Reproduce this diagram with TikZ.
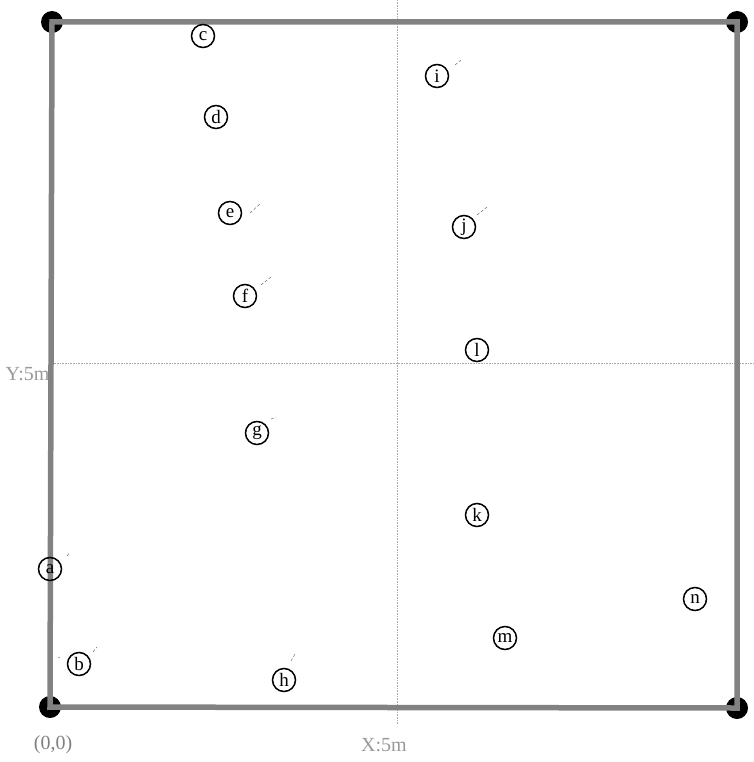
\documentclass[tikz,border=0pt]{standalone}
\usepackage{fontspec}
\setmainfont{Liberation Serif}
\usepackage{xcolor}
\usepackage{tikz}
\usetikzlibrary{positioning, calc}
\definecolor{framegray}{RGB}{130, 130, 130}
\definecolor{axisgray}{RGB}{170, 170, 170}

\begin{document}
\begin{tikzpicture}[
  x=1pt, y=-1pt,
  font=\fontsize{19}{21}\selectfont,
  pointnode/.style={draw=black, circle, line width=1.5pt, minimum size=23pt, inner sep=0pt},
  cornerdot/.style={fill=black, circle, minimum size=22pt, inner sep=0pt},
  frameline/.style={draw=framegray, line width=5.5pt},
  axisline/.style={draw=axisgray, line width=0.6pt, densely dotted},
  tickmark/.style={draw=gray, line width=0.6pt, densely dashed},
  axislabel/.style={text=gray!80, font=\fontsize{20}{22}\selectfont}
]
\useasboundingbox (0,0) rectangle (753,762);

% half-way lines
\coordinate (vtop) at (397,0);
\coordinate (vbot) at (397,724);
\coordinate (hleft) at (52,363);
\coordinate (hright) at (753,363);
\draw[axisline] (vtop) -- (vbot);
\draw[axisline] (hleft) -- (hright);

% corners
\node[cornerdot] (ctl) at (52,22) {};
\node[cornerdot] (ctr) at (737,22) {};
\node[cornerdot] (cbl) at (50,707) {};
\node[cornerdot] (cbr) at (737,708) {};
\draw[frameline] (ctl.center) -- (ctr.center) -- (cbr.center) -- (cbl.center) -- cycle;

% labels
\node[axislabel, text=gray] (origin) at (53,745) {(0,0)};
\node[axislabel] (xlab) at (384,745) {X:5m};
\node[axislabel, anchor=east] (ylab) at (53,374) {Y:5m};

% points
\node[pointnode] (c) at (203,36) {c};
\node[pointnode] (i) at (437,76) {i};
\node[pointnode] (d) at (216,117) {d};
\node[pointnode] (e) at (230,213) {e};
\node[pointnode] (j) at (464,227) {j};
\node[pointnode] (f) at (245,296) {f};
\node[pointnode] (l) at (477,350) {l};
\node[pointnode] (g) at (257,433) {g};
\node[pointnode] (k) at (477,515) {k};
\node[pointnode] (a) at (50,569) {a};
\node[pointnode] (n) at (695,599) {n};
\node[pointnode] (m) at (505,638) {m};
\node[pointnode] (b) at (79,664) {b};
\node[pointnode] (h) at (284,680) {h};

% heading marks
\draw[tickmark] ($(i)+(18,-11)$) -- ++(6,-5);
\draw[tickmark] ($(e)+(20,0)$) -- ++(10,-9);
\draw[tickmark] ($(f)+(16,-11)$) -- ++(10,-8);
\draw[tickmark] ($(j)+(13,-12)$) -- ++(10,-8);
\draw[tickmark] ($(g)+(14,-14)$) -- ++(5,-2);
\draw[tickmark] ($(h)+(7,-19)$) -- ++(4,-7);
\draw[tickmark] ($(a)+(17,-13)$) -- ++(3,-4);
\draw[tickmark] ($(b)+(14,-12)$) -- ++(4,-5);
\draw[tickmark] ($(b)+(-21,-7)$) -- ++(2,1);
\end{tikzpicture}
\end{document}
